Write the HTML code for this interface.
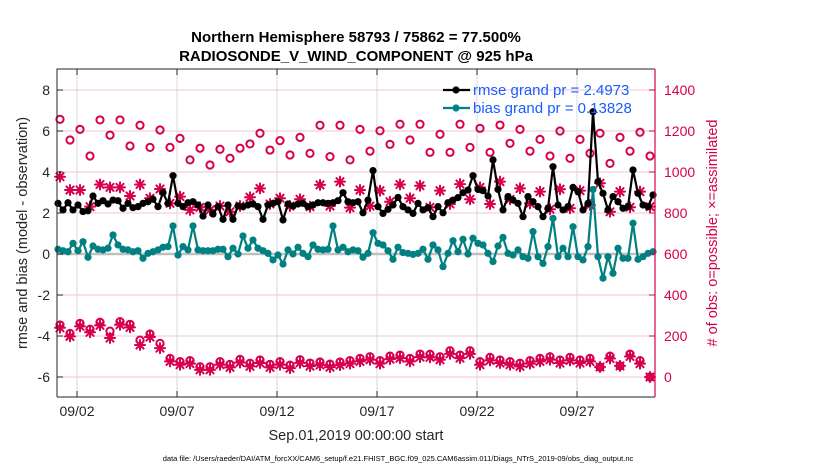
<!DOCTYPE html>
<html><head><meta charset="utf-8"><style>
html,body{margin:0;padding:0;background:#fff;}
svg{display:block;font-family:"Liberation Sans",Arial,sans-serif;}
</style></head><body>
<svg id="chart" width="830" height="470" viewBox="0 0 830 470">
<rect x="0" y="0" width="830" height="470" fill="#fff"/>
<text x="356" y="42" text-anchor="middle" font-size="15" font-weight="bold" fill="#000">Northern Hemisphere 58793 / 75862 = 77.500%</text>
<text x="356" y="61" text-anchor="middle" font-size="15" font-weight="bold" fill="#000">RADIOSONDE_V_WIND_COMPONENT @ 925 hPa</text>
<g id="grid"></g>
<g id="marks"></g>
<g id="axes"></g>
<text transform="translate(27,233) rotate(-90)" text-anchor="middle" font-size="14.5" fill="#262626">rmse and bias (model - observation)</text>
<text transform="translate(717,233) rotate(-90)" text-anchor="middle" font-size="14.5" fill="#d6004f"># of obs: o=possible; ×=assimilated</text>
<text x="356" y="440" text-anchor="middle" font-size="14.5" fill="#262626">Sep.01,2019 00:00:00 start</text>
<text x="398" y="461" text-anchor="middle" font-size="7.5" fill="#000">data file: /Users/raeder/DAI/ATM_forcXX/CAM6_setup/f.e21.FHIST_BGC.f09_025.CAM6assim.011/Diags_NTrS_2019-09/obs_diag_output.nc</text>
<g id="legend"></g>
</svg>
<script>
const rmse=[2.47,2.15,2.5,2.15,2.39,2.07,2.11,2.83,2.47,2.6,2.44,2.63,2.6,2.23,2.47,2.26,2.31,2.47,2.55,2.67,2.31,2.99,2.47,3.82,2.47,2.31,2.5,2.55,2.39,1.85,2.39,
1.95,2.31,1.69,2.39,1.69,2.34,2.31,2.39,2.44,2.31,1.69,2.39,2.47,2.55,1.66,2.44,2.34,2.44,2.47,2.31,2.39,2.5,2.5,2.47,2.5,2.6,2.99,2.55,2.5,
2.55,2.01,2.63,4.07,2.31,1.98,2.18,2.39,2.76,2.31,2.15,1.98,2.47,2.15,2.26,1.82,2.31,2.01,2.5,2.63,2.75,2.99,3.12,3.82,3.15,3.09,2.83,4.59,3.15,2.15,
2.8,2.63,2.47,1.82,2.8,2.55,2.31,1.82,2.23,4.26,2.39,2.15,2.31,3.25,3.04,2.15,2.47,6.94,3.53,2.96,2.15,2.8,2.55,2.23,2.31,4.1,2.96,2.39,2.31,2.88];
const bias=[0.23,0.16,0.11,0.52,0.16,0.6,-0.16,0.39,0.23,0.2,0.28,0.93,0.44,0.23,0.2,0.11,0.16,-0.21,0.03,0.11,0.2,0.33,0.36,1.37,-0.05,0.36,0.2,1.37,0.2,0.16,0.16,
0.16,0.23,0.23,-0.13,0.28,0.0,0.88,0.28,0.68,0.28,0.16,0.03,-0.29,-0.05,-0.49,0.2,0.0,0.33,0.03,-0.13,0.44,0.23,0.2,0.23,1.37,0.2,0.33,0.11,0.2,
0.16,-0.16,0.03,1.04,0.52,0.44,0.16,-0.26,0.33,0.07,0.03,-0.02,0.03,0.23,-0.26,0.44,0.2,-0.62,0.03,0.65,0.11,0.72,0.0,0.77,0.52,0.44,0.03,-0.37,0.39,0.81,
0.03,-0.05,0.2,-0.13,-0.21,1.09,-0.13,-0.46,0.36,1.74,-0.13,0.28,-0.13,1.33,-0.13,-0.29,0.36,3.15,-0.13,-1.18,-0.13,-0.94,0.28,-0.21,-0.21,1.5,-0.26,-0.13,0.03,0.11];
const possUpper=[1257,1156,1208,1078,1254,1180,1254,1127,1228,1120,1205,1120,1164,1059,1116,1034,1111,1067,1116,1137,1189,1107,1153,1083,1169,1091,1228,1075,1228,1059,1208,1102,1201,1135,1233,1156,1233,1096,1184,1096,1233,1120,1213,1096,1229,1140,1208,1102,1159,1078,1200,1067,1159,1091,1189,1042,1169,1102,1194,1078];
const assimUpper=[977,912,912,831,939,925,925,883,939,872,917,847,880,815,828,815,834,806,834,877,920,844,872,834,867,831,937,834,953,826,912,834,909,855,939,872,933,828,909,844,941,867,925,844,953,867,920,847,904,818,916,823,909,839,945,806,904,828,904,831];
const possLower=[254,213,262,233,267,224,270,257,180,210,164,91,75,80,50,50,75,62,86,67,83,62,75,58,84,68,73,63,73,80,91,99,80,102,107,91,112,111,99,128,107,128,75,96,83,75,67,80,91,99,83,96,83,91,49,102,54,112,80,0];
const assimLower=[240,198,247,218,252,190,255,242,156,195,141,76,60,65,35,35,60,47,71,52,68,47,60,43,69,53,58,48,58,65,76,84,65,87,92,76,97,96,84,113,92,113,60,81,68,60,52,65,76,84,68,81,68,76,49,90,54,100,65,0];
const yTicksLeft=[-6,-4,-2,0,2,4,6,8];
const yTicksRight=[0,200,400,600,800,1000,1200,1400];
const xTickDays=[1,6,11,16,21,26];
const xTickLabels=["09/02","09/07","09/12","09/17","09/22","09/27"];

const NS="http://www.w3.org/2000/svg";
const L=57,R=655,T=69,B=397;
const x=d=>57+20*d;
const yl=v=>254-20.5*v;
const yr=c=>377-0.205*c;
const PINK="#d6004f",TEAL="#008080";
function mk(tag,attrs,parent){const e=document.createElementNS(NS,tag);for(const k in attrs)e.setAttribute(k,attrs[k]);parent.appendChild(e);return e;}
const grid=document.getElementById('grid'),marks=document.getElementById('marks'),axes=document.getElementById('axes'),legend=document.getElementById('legend');

yTicksLeft.forEach(v=>{const g=mk('line',{x1:L,x2:R,y1:yl(v),y2:yl(v),stroke:'#f2c6d4','stroke-width':1},grid);

});
xTickDays.forEach(d=>{const g=mk('line',{x1:x(d),x2:x(d),y1:T,y2:B,stroke:'#d9d9d9','stroke-width':1},grid);

});
const zl=mk('line',{x1:L,x2:R,y1:yl(0),y2:yl(0),stroke:'#bfbfbf','stroke-width':2.5},grid);



function star(cx,cy,s,parent,name){const g=mk('g',{stroke:PINK,'stroke-width':2,'stroke-linecap':'round'},parent);


mk('line',{x1:cx-s,x2:cx+s,y1:cy,y2:cy},g);mk('line',{x1:cx,x2:cx,y1:cy-s,y2:cy+s},g);
const d=s*0.72;mk('line',{x1:cx-d,x2:cx+d,y1:cy-d,y2:cy+d},g);mk('line',{x1:cx-d,x2:cx+d,y1:cy+d,y2:cy-d},g);}
const obsT=i=>0.15+0.5*i;
assimUpper.forEach((c,i)=>star(x(obsT(i)),yr(c),5,marks,'assimilated-upper-marker'));
possUpper.forEach((c,i)=>{const e=mk('circle',{cx:x(obsT(i)),cy:yr(c),r:3.6,fill:'none',stroke:PINK,'stroke-width':2},marks);

});
assimLower.forEach((c,i)=>star(x(obsT(i)),yr(c),5,marks,'assimilated-lower-marker'));
possLower.forEach((c,i)=>{const e=mk('circle',{cx:x(obsT(i)),cy:yr(c),r:3.6,fill:'none',stroke:PINK,'stroke-width':2},marks);

});

function series(vals,color,name){const t=i=>0.05+0.25*i;
const p=mk('polyline',{points:vals.map((v,i)=>x(t(i))+','+yl(v)).join(' '),fill:'none',stroke:color,'stroke-width':2.2,'stroke-linejoin':'round'},marks);


vals.forEach((v,i)=>{const c=mk('circle',{cx:x(t(i)),cy:yl(v),r:3.6,fill:color},marks);

});}
series(bias,TEAL,'bias');
series(rmse,'#000','rmse');

// axes
const box=mk('path',{d:`M${L},${B}V${T}H${R}`,fill:'none',stroke:'#262626','stroke-width':1},axes);


const bx=mk('line',{x1:L,x2:R,y1:B,y2:B,stroke:'#262626','stroke-width':1},axes);


const ry=mk('line',{x1:R,x2:R,y1:T,y2:B,stroke:PINK,'stroke-width':1.2},axes);


yTicksLeft.forEach(v=>{mk('line',{x1:L,x2:L+6,y1:yl(v),y2:yl(v),stroke:'#262626'},axes);
const t=mk('text',{x:L-7,y:yl(v)+5,'text-anchor':'end','font-size':14,fill:'#262626'},axes);t.textContent=v;

});
yTicksRight.forEach(c=>{mk('line',{x1:R,x2:R-6,y1:yr(c),y2:yr(c),stroke:PINK},axes);
const t=mk('text',{x:R+9,y:yr(c)+5,'text-anchor':'start','font-size':14,fill:PINK},axes);t.textContent=c;

});
xTickDays.forEach((d,i)=>{mk('line',{x1:x(d),x2:x(d),y1:B,y2:B-6,stroke:'#262626'},axes);mk('line',{x1:x(d),x2:x(d),y1:T,y2:T+6,stroke:'#262626'},axes);
const t=mk('text',{x:x(d),y:416,'text-anchor':'middle','font-size':14,fill:'#262626'},axes);t.textContent=xTickLabels[i];

});

// legend
[['rmse grand pr = 2.4973','#000',90],['bias grand pr = 0.13828',TEAL,108]].forEach(([lab,col,ly],k)=>{
const g=mk('g',{},legend);


mk('line',{x1:443,x2:470,y1:ly,y2:ly,stroke:col,'stroke-width':2.2},g);
mk('circle',{cx:456,cy:ly,r:3.6,fill:col},g);
const t=mk('text',{x:473,y:ly+5,'font-size':15,fill:'#1a5cff'},g);t.textContent=lab;});
</script>
</body></html>
